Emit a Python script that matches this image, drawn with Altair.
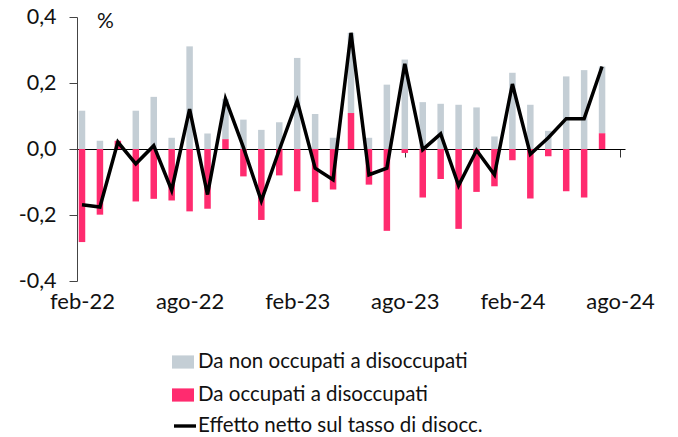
import altair as alt
import pandas as pd

months = ["feb-22", "mar-22", "apr-22", "mag-22", "giu-22", "lug-22", "ago-22", "set-22",
          "ott-22", "nov-22", "dic-22", "gen-23", "feb-23", "mar-23", "apr-23", "mag-23",
          "giu-23", "lug-23", "ago-23", "set-23", "ott-23", "nov-23", "dic-23", "gen-24",
          "feb-24", "mar-24", "apr-24", "mag-24", "giu-24", "lug-24"]
gray = [0.116, 0.025, 0.0, 0.116, 0.158, 0.034, 0.311, 0.047, 0.122, 0.089,
        0.058, 0.081, 0.276, 0.106, 0.034, 0.243, 0.034, 0.195, 0.271, 0.142,
        0.137, 0.134, 0.126, 0.038, 0.231, 0.134, 0.055, 0.220, 0.239, 0.202]
pink = [-0.282, -0.199, 0.025, -0.159, -0.151, -0.156, -0.189, -0.181, 0.030, -0.083,
        -0.215, -0.080, -0.128, -0.161, -0.123, 0.109, -0.108, -0.248, -0.012, -0.147,
        -0.091, -0.242, -0.130, -0.113, -0.034, -0.150, -0.022, -0.128, -0.147, 0.048]
net = [-0.169, -0.176, 0.021, -0.045, 0.010, -0.125, 0.121, -0.138, 0.152, 0.005,
       -0.157, -0.003, 0.146, -0.058, -0.093, 0.352, -0.078, -0.058, 0.258, -0.002,
       0.046, -0.111, -0.004, -0.078, 0.197, -0.016, 0.034, 0.092, 0.092, 0.250]
tick_positions = [0, 6, 12, 18, 24, 30]
tick_labels = ["feb-22", "ago-22", "feb-23", "ago-23", "feb-24", "ago-24"]
y_ticks = [-0.4, -0.2, 0.0, 0.2, 0.4]
bar_names = ["Da non occupati a disoccupati", "Da occupati a disoccupati"]
bar_colors = ["#c4ced5", "#ff2b6f"]
line_name = "Effetto netto sul tasso di disocc."
line_color = "#000000"

rows = []
for i, m in enumerate(months):
    rows.append({"i": i, "month": m, "serie": bar_names[1], "v": pink[i], "ord": 0})
    rows.append({"i": i, "month": m, "serie": bar_names[0], "v": gray[i], "ord": 1})
bars_df = pd.DataFrame(rows)
line_df = pd.DataFrame({"i": list(range(len(months))), "month": months, "v": net,
                        "serie": [line_name] * len(months)})

FONT = "Lato"
label_arr = "[" + ",".join("'%s'" % t for t in tick_labels) + "]"

x_axis = alt.Axis(values=tick_positions, labelExpr=label_arr + "[round(datum.value/6)]",
                  offset=-132, tickSize=8, labelPadding=134, domainColor="#000000",
                  domainWidth=1, tickColor="#333333", grid=False, title=None,
                  labelFontSize=22, labelColor="#111111", labelFont=FONT, labelFlush=False)
x_scale = alt.Scale(domain=[0, 30], nice=False, zero=False)

y_axis = alt.Axis(values=y_ticks,
                  labelExpr="replace(replace(format(datum.value, '.1f'), '.', ','), '\u2212', '-')",
                  tickSize=8, labelPadding=13, domainColor="#444444", tickColor="#444444",
                  grid=False, title="%", titleAngle=0, titleX=28, titleY=4,
                  titleAlign="center", titleBaseline="middle", titleFontSize=21,
                  titleFontWeight="normal", titleFont=FONT, titleColor="#111111",
                  labelFontSize=21.5, labelColor="#111111", labelFont=FONT)
y_scale = alt.Scale(domain=[-0.4, 0.4], nice=False)

rect_path = "M-1,-0.6H1V0.6H-1Z"

bar_legend = alt.Legend(orient="none", legendX=95, legendY=334, title=None,
                        symbolType=rect_path, symbolSize=484, symbolStrokeWidth=0,
                        labelFont=FONT, labelFontSize=20.5, labelColor="#111111",
                        labelOffset=4, rowPadding=11, padding=0, labelLimit=400)
line_legend = alt.Legend(orient="none", legendX=95, legendY=396, title=None,
                         symbolType="stroke", symbolSize=484, symbolStrokeWidth=3.4,
                         labelFont=FONT, labelFontSize=20.5, labelColor="#111111",
                         labelOffset=0, padding=0, labelLimit=400)

bars = alt.Chart(bars_df).mark_bar(size=6.5, clip=True).encode(
    x=alt.X("i:Q", scale=x_scale, axis=x_axis),
    y=alt.Y("v:Q", stack="zero", scale=y_scale, axis=y_axis),
    color=alt.Color("serie:N", scale=alt.Scale(domain=bar_names, range=bar_colors),
                    legend=bar_legend),
    order=alt.Order("ord:Q"),
)

line = alt.Chart(line_df).mark_line(strokeWidth=3.5, strokeJoin="miter").encode(
    x=alt.X("i:Q", scale=x_scale, axis=x_axis),
    y=alt.Y("v:Q", scale=y_scale, axis=y_axis),
    stroke=alt.Stroke("serie:N", scale=alt.Scale(domain=[line_name], range=[line_color]),
                      legend=line_legend),
)

chart = alt.layer(bars, line).properties(
    width=548, height=264,
    padding={"left": 69, "top": 9, "right": 45, "bottom": 156},
    autosize=alt.AutoSizeParams(type="none"),
    background="white",
).configure_view(stroke=None)

chart.save("out.html", embed_options={"renderer": "svg", "actions": False})
